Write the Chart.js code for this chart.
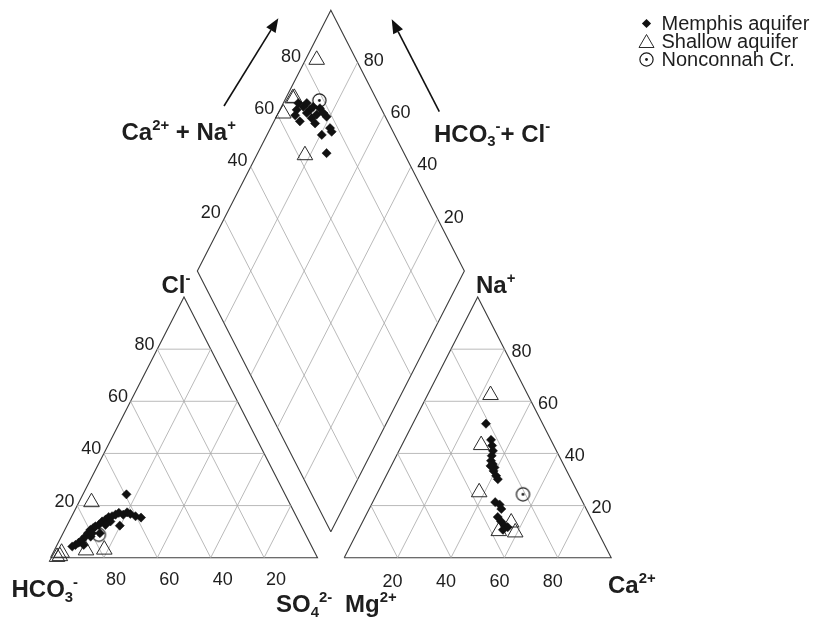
<!DOCTYPE html>
<html>
<head>
<meta charset="utf-8">
<script src="https://cdn.jsdelivr.net/npm/chart.js@4.4.1/dist/chart.umd.min.js"></script>
<style>
  html, body { margin: 0; padding: 0; background: #ffffff; }
  canvas { display: block; }
</style>
</head>
<body>
<canvas id="piper" width="814" height="620"></canvas>
<script>
// Gridline / tick values (percent of total meq/L)
const tickValues = [20, 40, 60, 80];

// Series names
const seriesNames = ['Memphis aquifer', 'Shallow aquifer', 'Nonconnah Cr.'];

// Memphis aquifer
// cations: [Ca2+ %, Na+ %]  (Mg2+ is the remainder)
const memphisCations = [
  [27.4, 51.4], [32.4, 45.2], [33.9, 43.0], [35.2, 41.0], [35.7, 39.1],
  [36.4, 37.2], [37.7, 35.9], [39.0, 34.6], [39.3, 33.3], [41.2, 31.4],
  [42.5, 30.1], [37.2, 35.2], [45.9, 21.3], [48.0, 20.4], [49.5, 18.7],
  [49.7, 15.6], [51.8, 13.9], [53.9, 12.3], [55.4, 11.7], [54.1, 10.7]
];
// anions: [Cl- %, SO4 2- %]  (HCO3- is the remainder)
const memphisAnions = [
  [4.3, 6.0], [4.9, 6.9], [5.8, 7.7], [6.8, 8.4], [8.1, 9.0],
  [9.4, 9.3], [10.7, 9.6], [11.4, 10.3], [12.0, 10.8], [12.6, 11.8],
  [13.9, 12.4], [14.6, 13.3], [15.6, 14.0], [15.9, 15.1], [16.5, 16.1],
  [17.2, 17.0], [16.5, 19.0], [17.4, 20.0], [16.8, 21.5], [15.9, 23.9],
  [15.4, 26.2], [12.3, 19.8], [8.1, 11.0], [9.4, 13.8], [4.9, 10.0],
  [13.9, 15.5], [24.3, 16.3], [9.4, 10.9], [12.6, 14.3]
];
// central field: [Ca2+ + Na+ %, HCO3- + Cl- %]
const memphisField = [
  [73.2, 91.2], [68.1, 93.7], [66.5, 93.2], [67.1, 90.3], [73.1, 88.7],
  [74.7, 85.3], [77.1, 85.3], [78.0, 81.2], [72.4, 84.2], [77.1, 77.7],
  [77.0, 76.4], [72.7, 79.5], [71.0, 74.2], [71.2, 91.8], [72.1, 86.5],
  [71.3, 89.3], [70.0, 94.4], [74.9, 88.1], [77.5, 83.1]
];

// Shallow aquifer
const shallowCations = [
  [23.6, 62.4], [29.7, 43.2], [38.0, 25.1], [55.8, 13.5], [52.8, 10.2], [59.2, 9.7]
];
const shallowAnions = [
  [21.3, 4.7], [2.8, 11.9], [3.1, 18.6], [0.3, 2.3], [0.6, 3.2], [1.9, 3.2]
];
const shallowField = [
  [85.2, 95.8], [68.8, 97.4], [62.4, 98.0], [62.5, 81.9], [69.5, 96.9]
];

// Nonconnah Creek
const nonconnahCations = [[54.8, 24.3]];
const nonconnahAnions = [[8.8, 13.7]];
const nonconnahField = [[78.4, 87.0]];

// ---- Piper geometry (triangle side = 100, gap between fields = 10) ----
const H = Math.sqrt(3) / 2;
const GAP = 10;
const CAT_X0 = 100 + GAP;                        // left corner of the cation triangle
const DIA_B = { x: 100 + GAP / 2, y: GAP * H };  // bottom corner of the diamond

function anionPt(cl, so4) { return { x: so4 + cl / 2, y: cl * H }; }
function cationPt(ca, na) { return { x: CAT_X0 + ca + na / 2, y: na * H }; }
function fieldPt(u, v) { return { x: DIA_B.x + (u - v) / 2, y: DIA_B.y + (u + v) * H }; }

const toAnion = arr => arr.map(p => anionPt(p[0], p[1]));
const toCation = arr => arr.map(p => cationPt(p[0], p[1]));
const toField = arr => arr.map(p => fieldPt(p[0], p[1]));

// ---- frame and grid ----
const frameColor = '#3c3c3c';
const gridColor = '#a8a8a8';
const frameSets = [];
function seg(points, color, width) {
  frameSets.push({
    type: 'scatter', data: points, showLine: true, fill: false,
    borderColor: color, borderWidth: width, pointRadius: 0, pointHoverRadius: 0,
    tension: 0, order: 10, label: ''
  });
}
// inner gridlines
tickValues.forEach(t => {
  // anion triangle
  seg([anionPt(t, 0), anionPt(t, 100 - t)], gridColor, 0.8);          // Cl = t
  seg([anionPt(0, 100 - t), anionPt(t, 100 - t)], gridColor, 0.8);    // SO4 = 100 - t
  seg([anionPt(0, t), anionPt(t, 0)], gridColor, 0.8);                // HCO3 = 100 - t
  // cation triangle
  seg([cationPt(0, t), cationPt(100 - t, t)], gridColor, 0.8);        // Na = t
  seg([cationPt(t, 0), cationPt(t, 100 - t)], gridColor, 0.8);        // Ca = t
  seg([cationPt(0, 100 - t), cationPt(100 - t, 0)], gridColor, 0.8);  // Mg = t
  // diamond
  seg([fieldPt(t, 0), fieldPt(t, 100)], gridColor, 0.8);
  seg([fieldPt(0, t), fieldPt(100, t)], gridColor, 0.8);
});
// outlines
seg([anionPt(0, 0), anionPt(0, 100), anionPt(100, 0), anionPt(0, 0)], frameColor, 1.1);
seg([cationPt(0, 0), cationPt(100, 0), cationPt(0, 100), cationPt(0, 0)], frameColor, 1.1);
seg([fieldPt(0, 0), fieldPt(100, 0), fieldPt(100, 100), fieldPt(0, 100), fieldPt(0, 0)], frameColor, 1.1);

// circle-with-dot marker
const dotCircle = document.createElement('canvas');
dotCircle.width = 17; dotCircle.height = 17;
(function () {
  const c = dotCircle.getContext('2d');
  c.strokeStyle = '#1a1a1a'; c.lineWidth = 1.2;
  c.beginPath(); c.arc(8.5, 8.5, 6.6, 0, Math.PI * 2); c.stroke();
  c.fillStyle = '#1a1a1a';
  c.beginPath(); c.arc(8.5, 8.5, 1.4, 0, Math.PI * 2); c.fill();
})();

const memphisStyle = {
  pointStyle: 'rectRot', pointRadius: 4.6, pointBackgroundColor: '#111111',
  pointBorderColor: '#111111', pointBorderWidth: 0.5, order: 1
};
const shallowStyle = {
  pointStyle: 'triangle', pointRadius: 9, pointBackgroundColor: 'rgba(255,255,255,0)',
  pointBorderColor: '#2a2a2a', pointBorderWidth: 1, order: 2
};
const nonconnahStyle = { pointStyle: dotCircle, pointRadius: 8, order: 3 };

const dataSets = [
  Object.assign({ label: seriesNames[0], data: toAnion(memphisAnions).concat(toCation(memphisCations), toField(memphisField)) }, memphisStyle),
  Object.assign({ label: seriesNames[1], data: toAnion(shallowAnions).concat(toCation(shallowCations), toField(shallowField)) }, shallowStyle),
  Object.assign({ label: seriesNames[2], data: toAnion(nonconnahAnions).concat(toCation(nonconnahCations), toField(nonconnahField)) }, nonconnahStyle)
];

// ---- text helpers ----
const FONT = '"Liberation Sans", Arial, Helvetica, sans-serif';
function drawRich(ctx, x, y, parts, size, bold) {
  ctx.textBaseline = 'alphabetic';
  ctx.textAlign = 'left';
  let cx = x;
  parts.forEach(([t, k]) => {
    const s = k ? size * 0.62 : size;
    ctx.font = (bold ? 'bold ' : '') + s + 'px ' + FONT;
    let dy = 0;
    if (k === 'sup') dy = -size * 0.42;
    if (k === 'sub') dy = size * 0.2;
    ctx.fillText(t, cx, y + dy);
    cx += ctx.measureText(t).width;
  });
}

const titles = [
  { x: 121.5, y: 140, parts: [['Ca', ''], ['2+', 'sup'], [' + Na', ''], ['+', 'sup']] },
  { x: 434, y: 141.5, parts: [['HCO', ''], ['3', 'sub'], ['-', 'sup'], ['+ Cl', ''], ['-', 'sup']] },
  { x: 161.5, y: 293, parts: [['Cl', ''], ['-', 'sup']] },
  { x: 476, y: 293, parts: [['Na', ''], ['+', 'sup']] },
  { x: 11.5, y: 597, parts: [['HCO', ''], ['3', 'sub'], ['-', 'sup']] },
  { x: 276, y: 612, parts: [['SO', ''], ['4', 'sub'], ['2-', 'sup']] },
  { x: 345, y: 612, parts: [['Mg', ''], ['2+', 'sup']] },
  { x: 608, y: 593, parts: [['Ca', ''], ['2+', 'sup']] }
];

// direction arrows beside the diamond, in chart units
const arrows = [
  { from: [64.98, 150.07], to: [85.32, 179.2] },
  { from: [145.62, 148.17], to: [127.79, 178.87] }
];

const piperDecor = {
  id: 'piperDecor',
  afterDatasetsDraw(chart) {
    const ctx = chart.ctx;
    const X = v => chart.scales.x.getPixelForValue(v);
    const Y = v => chart.scales.y.getPixelForValue(v);
    ctx.save();
    ctx.fillStyle = '#1e1e1e';

    // tick labels
    ctx.font = '18px ' + FONT;
    ctx.textBaseline = 'middle';
    tickValues.forEach(t => {
      let p;
      // anion triangle: Cl along left edge
      p = anionPt(t, 0);
      ctx.textAlign = 'right'; ctx.fillText(String(t), X(p.x) - 2.7, Y(p.y) - 4);
      // anion triangle: HCO3 along base
      p = anionPt(0, 100 - t);
      ctx.textAlign = 'center'; ctx.fillText(String(t), X(p.x) + 12, Y(p.y) + 22);
      // cation triangle: Na along right edge
      p = cationPt(100 - t, t);
      ctx.textAlign = 'left'; ctx.fillText(String(t), X(p.x) + 7, Y(p.y) + 2.5);
      // cation triangle: Ca along base
      p = cationPt(t, 0);
      ctx.textAlign = 'center'; ctx.fillText(String(t), X(p.x) - 5, Y(p.y) + 24);
      // diamond: Ca + Na along upper-left edge
      p = fieldPt(t, 100);
      ctx.textAlign = 'right'; ctx.fillText(String(t), X(p.x) - 3.2, Y(p.y) - 5.8);
      // diamond: HCO3 + Cl along upper-right edge
      p = fieldPt(100, t);
      ctx.textAlign = 'left'; ctx.fillText(String(t), X(p.x) + 6.2, Y(p.y) - 1.2);
    });

    // axis titles
    titles.forEach(tl => drawRich(ctx, tl.x, tl.y, tl.parts, 24, true));

    // arrows
    ctx.strokeStyle = '#111111';
    ctx.fillStyle = '#111111';
    ctx.lineWidth = 1.6;
    arrows.forEach(a => {
      const x1 = X(a.from[0]), y1 = Y(a.from[1]);
      const x2 = X(a.to[0]), y2 = Y(a.to[1]);
      const ang = Math.atan2(y2 - y1, x2 - x1);
      const len = 14, hw = 5.5;
      const bx = x2 - Math.cos(ang) * len, by = y2 - Math.sin(ang) * len;
      ctx.beginPath(); ctx.moveTo(x1, y1); ctx.lineTo(bx, by); ctx.stroke();
      ctx.beginPath();
      ctx.moveTo(x2, y2);
      ctx.lineTo(bx + Math.sin(ang) * hw, by - Math.cos(ang) * hw);
      ctx.lineTo(bx - Math.sin(ang) * hw, by + Math.cos(ang) * hw);
      ctx.closePath(); ctx.fill();
    });

    // legend
    const lx = 646.5, tx = 661.5, rows = [23.5, 41.5, 59.5];
    ctx.fillStyle = '#111111';
    ctx.beginPath();
    ctx.moveTo(lx, rows[0] - 4.6); ctx.lineTo(lx + 4.6, rows[0]);
    ctx.lineTo(lx, rows[0] + 4.6); ctx.lineTo(lx - 4.6, rows[0]);
    ctx.closePath(); ctx.fill();
    ctx.strokeStyle = '#2a2a2a'; ctx.lineWidth = 1;
    ctx.beginPath();
    ctx.moveTo(lx, rows[1] - 7); ctx.lineTo(lx + 7.5, rows[1] + 6);
    ctx.lineTo(lx - 7.5, rows[1] + 6); ctx.closePath(); ctx.stroke();
    ctx.drawImage(dotCircle, lx - 8.5, rows[2] - 8.5);
    ctx.fillStyle = '#1e1e1e';
    ctx.font = '20px ' + FONT;
    ctx.textAlign = 'left'; ctx.textBaseline = 'middle';
    seriesNames.forEach((n, i) => ctx.fillText(n, tx, rows[i] + 1));

    ctx.restore();
  }
};

new Chart(document.getElementById('piper'), {
  type: 'scatter',
  data: { datasets: dataSets.concat(frameSets) },
  options: {
    responsive: false,
    animation: false,
    devicePixelRatio: 1,
    layout: { padding: 0, autoPadding: false },
    plugins: { legend: { display: false }, tooltip: { enabled: false } },
    scales: {
      x: { type: 'linear', display: false, min: -18.914, max: 285.955 },
      y: { type: 'linear', display: false, min: -20.698, max: 185.28 }
    }
  },
  plugins: [piperDecor]
});
</script>
</body>
</html>
